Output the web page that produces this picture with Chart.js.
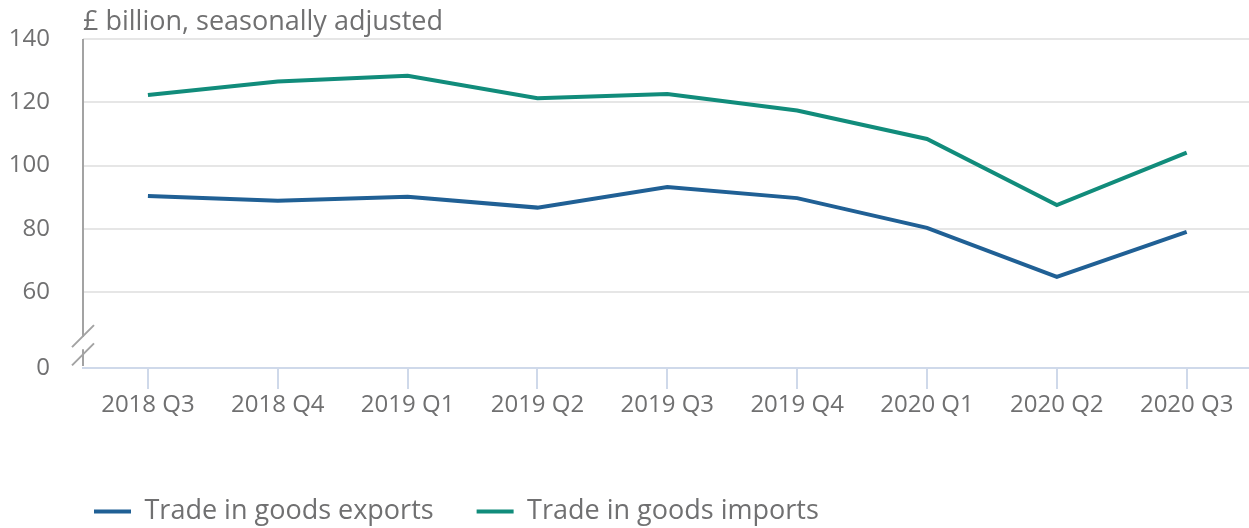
<!DOCTYPE html>
<html>
<head>
<meta charset="utf-8">
<script src="https://cdn.jsdelivr.net/npm/chart.js@4"></script>
<style>
  html, body { margin: 0; padding: 0; background: #fff; }
  #wrap { width: 1249px; height: 528px; position: relative; }
</style>
</head>
<body>
<div id="wrap"><canvas id="grafico"></canvas></div>
<script>
const categorias = ["2018 Q3", "2018 Q4", "2019 Q1", "2019 Q2", "2019 Q3", "2019 Q4", "2020 Q1", "2020 Q2", "2020 Q3"];
const exportacoes = [90.4, 88.9, 90.1, 86.7, 93.2, 89.7, 80.3, 64.8, 79.0];
const importacoes = [122.3, 126.6, 128.4, 121.3, 122.6, 117.4, 108.4, 87.5, 104.1];
const ticksY = [36, 60, 80, 100, 120, 140]; // 36 = posição do "0" depois da quebra
const tituloY = "£ billion, seasonally adjusted";

const corTexto = "#707071";
const fonte = "'Open Sans', sans-serif";

// eixo y com quebra + título
const quebraEixo = {
    id: "quebraEixo",
    afterLayout(chart) {
        // legenda começa alinhada ao eixo, não à borda
        chart.legend.left += 51;
        chart.legend.top += 7;
    },
    afterDraw(chart) {
        const { ctx, chartArea, scales } = chart;
        const x = chartArea.left;
        const p0 = scales.y.getPixelForValue(36);
        const p60 = scales.y.getPixelForValue(60);
        const h = p0 - p60;
        const s1 = p0 - 0.42 * h;
        const s2 = p0 - 0.18 * h;
        ctx.save();
        ctx.strokeStyle = "#a3a3a3";
        ctx.lineWidth = 2;
        ctx.beginPath();
        ctx.moveTo(x, chartArea.top);
        ctx.lineTo(x, s1 + 1);
        ctx.moveTo(x, s2 - 5);
        ctx.lineTo(x, p0 - 2);
        [s1, s2].forEach(cy => {
            ctx.moveTo(x - 11, cy + 11);
            ctx.lineTo(x + 11, cy - 11);
        });
        ctx.stroke();

        ctx.fillStyle = corTexto;
        ctx.font = "27px " + fonte;
        ctx.textAlign = "left";
        ctx.textBaseline = "alphabetic";
        ctx.fillText(tituloY, x, 30);
        ctx.restore();
    }
};

const ctx = document.getElementById("grafico");
new Chart(ctx, {
    type: "line",
    data: {
        datasets: [{
            label: "Trade in goods exports",
            data: exportacoes.map((v, i) => ({ x: i, y: v })),
            borderColor: "#206095",
            backgroundColor: "#206095",
            borderWidth: 4,
            pointRadius: 0,
            tension: 0
        }, {
            label: "Trade in goods imports",
            data: importacoes.map((v, i) => ({ x: i, y: v })),
            borderColor: "#118c7b",
            backgroundColor: "#118c7b",
            borderWidth: 4,
            pointRadius: 0,
            tension: 0
        }]
    },
    options: {
        responsive: true,
        maintainAspectRatio: false,
        animation: false,
        layout: { padding: { top: 39, left: 0, right: 0, bottom: 0 } },
        plugins: {
            legend: {
                position: "bottom",
                align: "start",
                labels: {
                    usePointStyle: true,
                    pointStyle: "line",
                    pointStyleWidth: 37,
                    boxHeight: 4,
                    padding: 43,
                    color: corTexto,
                    font: { family: fonte, size: 27 }
                }
            },
            tooltip: { enabled: false }
        },
        scales: {
            x: {
                type: "linear",
                min: -0.5,
                max: 8.48,
                afterFit: scale => { scale.height = 80; },
                afterBuildTicks: scale => { scale.ticks = categorias.map((c, i) => ({ value: i })); },
                grid: { drawOnChartArea: false, drawTicks: true, tickLength: 21, color: "#cfd9ea", lineWidth: 2 },
                border: { display: true, color: "#cfd9ea", width: 2 },
                ticks: {
                    color: corTexto,
                    padding: 2,
                    maxRotation: 0,
                    autoSkip: false,
                    font: { family: fonte, size: 24 },
                    callback: v => categorias[v]
                }
            },
            y: {
                min: 36,
                max: 140,
                afterFit: scale => {
                    scale.width = 83;
                    scale.paddingTop = 0;
                    scale.paddingBottom = 0;
                },
                afterBuildTicks: scale => { scale.ticks = ticksY.map(v => ({ value: v })); },
                grid: {
                    drawTicks: false,
                    tickLength: 0,
                    lineWidth: 2,
                    color: c => c.tick && c.tick.value === 36 ? "rgba(0,0,0,0)" : "#e6e6e6"
                },
                border: { display: false },
                ticks: {
                    color: corTexto,
                    padding: 33,
                    font: { family: fonte, size: 24 },
                    callback: v => v === 36 ? "0" : v
                }
            }
        }
    },
    plugins: [quebraEixo]
});
</script>
</body>
</html>
